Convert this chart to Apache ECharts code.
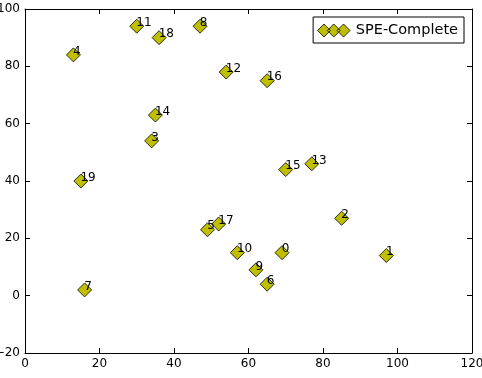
<!DOCTYPE html>
<html>
<head>
<meta charset="utf-8">
<script src="https://cdn.jsdelivr.net/npm/echarts@6/dist/echarts.min.js"></script>
<style>
  html, body { margin: 0; padding: 0; background: #fff; }
  #chart { width: 482px; height: 378px; }
</style>
</head>
<body>
<div id="chart"></div>
<script>
// point labels and coordinates
const pointNames = ['0', '1', '2', '3', '4', '5', '6', '7', '8', '9',
  '10', '11', '12', '13', '14', '15', '16', '17', '18', '19'];
const xValues = [69, 97, 85, 34, 13, 49, 65, 16, 47, 62,
  57, 30, 54, 77, 35, 70, 65, 52, 36, 15];
const yValues = [15, 14, 27, 54, 84, 23, 4, 2, 94, 9,
  15, 94, 78, 46, 63, 44, 75, 25, 90, 40];
const seriesName = 'SPE-Complete';
const xTicks = { min: 0, max: 120, interval: 20 };
const yTicks = { min: -20, max: 100, interval: 20 };

(function () {
  const chart = echarts.init(document.getElementById('chart'), null, { renderer: 'canvas' });
  const font = 'DejaVu Sans';
  const points = xValues.map((x, i) => [x, yValues[i]]);

  // three overlapping diamonds, like the matplotlib legend
  const diamond = cx => `M${cx} 0 L${cx + 7} 7 L${cx} 14 L${cx - 7} 7 Z`;
  const legendIcon = 'path://' + diamond(7) + ' ' + diamond(17.5) + ' ' + diamond(28);

  const minus = v => String(v).replace('-', '\u2212');

  const axisCommon = {
    axisLine: { show: true, onZero: false, lineStyle: { color: '#000', width: 1 } },
    axisTick: { show: true, inside: true, length: 5, lineStyle: { color: '#000' } },
    splitLine: { show: false }
  };

  chart.setOption({
    backgroundColor: '#fff',
    animation: false,
    textStyle: { fontFamily: font },
    grid: { left: 25, right: 10, top: 9, bottom: 25, containLabel: false, outerBoundsMode: 'none' },
    legend: {
      data: [{ name: seriesName, icon: legendIcon }],
      right: 18,
      top: 17,
      itemWidth: 34,
      itemHeight: 13,
      itemGap: 6,
      padding: [6, 6, 5, 4],
      borderColor: '#000',
      borderWidth: 1,
      borderRadius: 0,
      backgroundColor: '#fff',
      itemStyle: { borderWidth: 0.8, borderColor: '#000' },
      textStyle: { fontFamily: font, fontSize: 14.5, color: '#000' }
    },
    xAxis: [
      Object.assign({
        type: 'value', position: 'bottom',
        min: xTicks.min, max: xTicks.max, interval: xTicks.interval,
        axisLabel: { fontFamily: font, fontSize: 12, color: '#000', margin: 5, formatter: minus }
      }, axisCommon),
      Object.assign({
        type: 'value', position: 'top',
        min: xTicks.min, max: xTicks.max, interval: xTicks.interval,
        axisLabel: { show: false }
      }, axisCommon)
    ],
    yAxis: [
      Object.assign({
        type: 'value', position: 'left',
        min: yTicks.min, max: yTicks.max, interval: yTicks.interval,
        axisLabel: { fontFamily: font, fontSize: 12, color: '#000', margin: 5, formatter: minus }
      }, axisCommon),
      Object.assign({
        type: 'value', position: 'right',
        min: yTicks.min, max: yTicks.max, interval: yTicks.interval,
        axisLabel: { show: false }
      }, axisCommon)
    ],
    series: [{
      name: seriesName,
      type: 'scatter',
      xAxisIndex: 0,
      yAxisIndex: 0,
      data: points,
      symbol: 'diamond',
      symbolSize: 14,
      itemStyle: { color: '#bfbf00', borderColor: '#000', borderWidth: 0.8, opacity: 1 },
      label: {
        show: true,
        position: [7, 10],
        align: 'left',
        verticalAlign: 'bottom',
        fontFamily: font,
        fontSize: 12,
        color: '#000',
        formatter: p => pointNames[p.dataIndex]
      },
      emphasis: { disabled: true }
    }]
  });
  window.addEventListener('resize', () => chart.resize());
})();
</script>
</body>
</html>
